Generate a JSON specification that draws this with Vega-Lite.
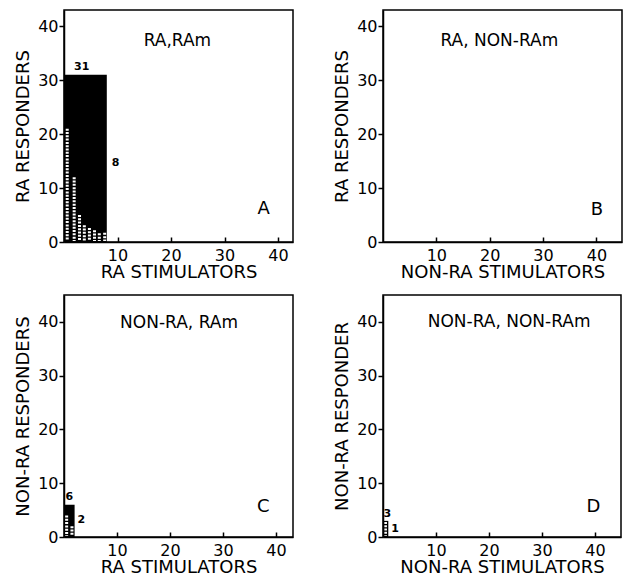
{
  "$schema": "https://vega.github.io/schema/vega-lite/v6.json",
  "background": "white",
  "padding": {"left": 13, "top": 9, "right": 0, "bottom": 0},
  "datasets": {
    "boxes": [
      {"panel": "A", "stim": 8, "resp": 31},
      {"panel": "C", "stim": 2, "resp": 6},
      {"panel": "D", "stim": 1, "resp": 3}
    ],
    "hatch": [
      {"panel": "A", "col": 0.6, "h": 21},
      {"panel": "A", "col": 1.9, "h": 12},
      {"panel": "A", "col": 2.9, "h": 5},
      {"panel": "A", "col": 3.8, "h": 3.1},
      {"panel": "A", "col": 4.75, "h": 2.6},
      {"panel": "A", "col": 5.7, "h": 2.2},
      {"panel": "A", "col": 6.6, "h": 1.6},
      {"panel": "A", "col": 7.6, "h": 1.7},
      {"panel": "C", "col": 0.5, "h": 4},
      {"panel": "C", "col": 1.5, "h": 2},
      {"panel": "D", "col": 0.5, "h": 2.8}
    ],
    "panels": [
      {"panel": "A", "title": "RA,RAm", "letter": "A"},
      {"panel": "B", "title": "RA, NON-RAm", "letter": "B"},
      {"panel": "C", "title": "NON-RA, RAm", "letter": "C"},
      {"panel": "D", "title": "NON-RA, NON-RAm", "letter": "D"}
    ]
  },
  "columns": 2,
  "spacing": {"row": 53, "column": 90},
  "bounds": "flush",
  "concat": [
    {
      "width": 229,
      "height": 232,
      "layer": [
        {
          "data": {"name": "panels"},
          "transform": [{"filter": "datum.panel === 'A'"}],
          "mark": {"type": "text", "fontSize": 17, "baseline": "middle", "align": "center"},
          "encoding": {
            "x": {"datum": 21.2, "type": "quantitative", "scale": {"domain": [0, 42.8], "nice": false, "zero": false},
                  "axis": {"title": "RA STIMULATORS", "values": [10, 20, 30, 40]}},
            "y": {"datum": 37.2, "type": "quantitative", "scale": {"domain": [0, 43], "nice": false, "zero": false},
                  "axis": {"title": "RA RESPONDERS", "values": [0, 10, 20, 30, 40]}},
            "text": {"field": "title", "type": "nominal"}
          }
        },
        {
          "data": {"name": "panels"},
          "transform": [{"filter": "datum.panel === 'A'"}],
          "mark": {"type": "text", "fontSize": 18, "baseline": "middle", "align": "center"},
          "encoding": {"x": {"datum": 37.3, "type": "quantitative"}, "y": {"datum": 6.1, "type": "quantitative"}, "text": {"field": "letter", "type": "nominal"}}
        },
        {
          "data": {"name": "boxes"},
          "transform": [{"filter": "datum.panel === 'A'"}],
          "mark": {"type": "rect", "fill": "black"},
          "encoding": {"x": {"field": "stim", "type": "quantitative"}, "x2": {"datum": 0}, "y": {"field": "resp", "type": "quantitative"}, "y2": {"datum": 0}}
        },
        {
          "data": {"name": "hatch"},
          "transform": [{"filter": "datum.panel === 'A'"}],
          "mark": {"type": "rule", "stroke": "white", "strokeWidth": 3, "strokeDash": [2, 1.3]},
          "encoding": {"x": {"field": "col", "type": "quantitative"}, "y": {"field": "h", "type": "quantitative"}, "y2": {"datum": 0.2}}
        },
        {
          "data": {"name": "boxes"},
          "transform": [{"filter": "datum.panel === 'A'"}],
          "mark": {"type": "text", "fontSize": 11, "fontWeight": "bold", "baseline": "bottom", "dy": -3},
          "encoding": {"x": {"datum": 3.3, "type": "quantitative"}, "y": {"field": "resp", "type": "quantitative"}, "text": {"field": "resp", "type": "quantitative"}}
        },
        {
          "data": {"name": "boxes"},
          "transform": [{"filter": "datum.panel === 'A'"}],
          "mark": {"type": "text", "fontSize": 11, "fontWeight": "bold", "align": "left", "baseline": "middle", "dx": 5},
          "encoding": {"x": {"field": "stim", "type": "quantitative"}, "y": {"datum": 14.6, "type": "quantitative"}, "text": {"field": "stim", "type": "quantitative"}}
        }
      ]
    },
    {
      "width": 239,
      "height": 232,
      "layer": [
        {
          "data": {"name": "panels"},
          "transform": [{"filter": "datum.panel === 'B'"}],
          "mark": {"type": "text", "fontSize": 17, "baseline": "middle", "align": "center"},
          "encoding": {
            "x": {"datum": 21.8, "type": "quantitative", "scale": {"domain": [0, 44.8], "nice": false, "zero": false},
                  "axis": {"title": "NON-RA STIMULATORS", "values": [10, 20, 30, 40]}},
            "y": {"datum": 37.2, "type": "quantitative", "scale": {"domain": [0, 43], "nice": false, "zero": false},
                  "axis": {"title": "RA RESPONDERS", "values": [0, 10, 20, 30, 40]}},
            "text": {"field": "title", "type": "nominal"}
          }
        },
        {
          "data": {"name": "panels"},
          "transform": [{"filter": "datum.panel === 'B'"}],
          "mark": {"type": "text", "fontSize": 18, "baseline": "middle", "align": "center"},
          "encoding": {"x": {"datum": 40.1, "type": "quantitative"}, "y": {"datum": 6.0, "type": "quantitative"}, "text": {"field": "letter", "type": "nominal"}}
        }
      ]
    },
    {
      "width": 229,
      "height": 242,
      "layer": [
        {
          "data": {"name": "panels"},
          "transform": [{"filter": "datum.panel === 'C'"}],
          "mark": {"type": "text", "fontSize": 17, "baseline": "middle", "align": "center"},
          "encoding": {
            "x": {"datum": 21.7, "type": "quantitative", "scale": {"domain": [0, 43.2], "nice": false, "zero": false},
                  "axis": {"title": "RA STIMULATORS", "values": [10, 20, 30, 40]}},
            "y": {"datum": 39.8, "type": "quantitative", "scale": {"domain": [0, 45], "nice": false, "zero": false},
                  "axis": {"title": "NON-RA RESPONDERS", "values": [0, 10, 20, 30, 40]}},
            "text": {"field": "title", "type": "nominal"}
          }
        },
        {
          "data": {"name": "panels"},
          "transform": [{"filter": "datum.panel === 'C'"}],
          "mark": {"type": "text", "fontSize": 18, "baseline": "middle", "align": "center"},
          "encoding": {"x": {"datum": 37.6, "type": "quantitative"}, "y": {"datum": 5.6, "type": "quantitative"}, "text": {"field": "letter", "type": "nominal"}}
        },
        {
          "data": {"name": "boxes"},
          "transform": [{"filter": "datum.panel === 'C'"}],
          "mark": {"type": "rect", "fill": "black"},
          "encoding": {"x": {"field": "stim", "type": "quantitative"}, "x2": {"datum": 0}, "y": {"field": "resp", "type": "quantitative"}, "y2": {"datum": 0}}
        },
        {
          "data": {"name": "hatch"},
          "transform": [{"filter": "datum.panel === 'C'"}],
          "mark": {"type": "rule", "stroke": "white", "strokeWidth": 3, "strokeDash": [2, 1.3]},
          "encoding": {"x": {"field": "col", "type": "quantitative"}, "y": {"field": "h", "type": "quantitative"}, "y2": {"datum": 0.2}}
        },
        {
          "data": {"name": "boxes"},
          "transform": [{"filter": "datum.panel === 'C'"}],
          "mark": {"type": "text", "fontSize": 11, "fontWeight": "bold", "baseline": "bottom", "dy": -3},
          "encoding": {"x": {"datum": 1.0, "type": "quantitative"}, "y": {"field": "resp", "type": "quantitative"}, "text": {"field": "resp", "type": "quantitative"}}
        },
        {
          "data": {"name": "boxes"},
          "transform": [{"filter": "datum.panel === 'C'"}],
          "mark": {"type": "text", "fontSize": 11, "fontWeight": "bold", "align": "left", "baseline": "middle", "dx": 3},
          "encoding": {"x": {"field": "stim", "type": "quantitative"}, "y": {"datum": 3.2, "type": "quantitative"}, "text": {"field": "stim", "type": "quantitative"}}
        }
      ]
    },
    {
      "width": 238,
      "height": 242,
      "layer": [
        {
          "data": {"name": "panels"},
          "transform": [{"filter": "datum.panel === 'D'"}],
          "mark": {"type": "text", "fontSize": 17, "baseline": "middle", "align": "center"},
          "encoding": {
            "x": {"datum": 23.8, "type": "quantitative", "scale": {"domain": [0, 44.9], "nice": false, "zero": false},
                  "axis": {"title": "NON-RA STIMULATORS", "values": [10, 20, 30, 40]}},
            "y": {"datum": 40, "type": "quantitative", "scale": {"domain": [0, 45], "nice": false, "zero": false},
                  "axis": {"title": "NON-RA RESPONDER", "values": [0, 10, 20, 30, 40]}},
            "text": {"field": "title", "type": "nominal"}
          }
        },
        {
          "data": {"name": "panels"},
          "transform": [{"filter": "datum.panel === 'D'"}],
          "mark": {"type": "text", "fontSize": 18, "baseline": "middle", "align": "center"},
          "encoding": {"x": {"datum": 39.7, "type": "quantitative"}, "y": {"datum": 5.5, "type": "quantitative"}, "text": {"field": "letter", "type": "nominal"}}
        },
        {
          "data": {"name": "boxes"},
          "transform": [{"filter": "datum.panel === 'D'"}],
          "mark": {"type": "rect", "fill": "black"},
          "encoding": {"x": {"field": "stim", "type": "quantitative"}, "x2": {"datum": 0}, "y": {"field": "resp", "type": "quantitative"}, "y2": {"datum": 0}}
        },
        {
          "data": {"name": "hatch"},
          "transform": [{"filter": "datum.panel === 'D'"}],
          "mark": {"type": "rule", "stroke": "white", "strokeWidth": 2.6, "strokeDash": [2, 1.3]},
          "encoding": {"x": {"field": "col", "type": "quantitative"}, "y": {"field": "h", "type": "quantitative"}, "y2": {"datum": 0.2}}
        },
        {
          "data": {"name": "boxes"},
          "transform": [{"filter": "datum.panel === 'D'"}],
          "mark": {"type": "text", "fontSize": 11, "fontWeight": "bold", "baseline": "bottom", "dy": -2},
          "encoding": {"x": {"datum": 0.8, "type": "quantitative"}, "y": {"field": "resp", "type": "quantitative"}, "text": {"field": "resp", "type": "quantitative"}}
        },
        {
          "data": {"name": "boxes"},
          "transform": [{"filter": "datum.panel === 'D'"}],
          "mark": {"type": "text", "fontSize": 11, "fontWeight": "bold", "align": "left", "baseline": "middle", "dx": 3},
          "encoding": {"x": {"field": "stim", "type": "quantitative"}, "y": {"datum": 1.4, "type": "quantitative"}, "text": {"field": "stim", "type": "quantitative"}}
        }
      ]
    }
  ],
  "config": {
    "aria": false,
    "view": {"stroke": "black", "strokeWidth": 1.5},
    "text": {"font": "DejaVu Sans", "color": "black"},
    "axis": {
      "grid": false,
      "domainColor": "black",
      "domainWidth": 1.5,
      "tickColor": "black",
      "tickWidth": 1.5,
      "labelColor": "black",
      "titleColor": "black",
      "labelFont": "DejaVu Sans",
      "titleFont": "DejaVu Sans",
      "labelFontSize": 16,
      "titleFontSize": 18,
      "titleFontWeight": "normal",
      "labelFlush": false,
      "labelOverlap": false,
      "format": "d"
    },
    "axisX": {"tickSize": -5, "labelPadding": 10, "titlePadding": 0},
    "axisY": {"tickSize": 5, "labelPadding": 1, "titlePadding": 5}
  }
}
